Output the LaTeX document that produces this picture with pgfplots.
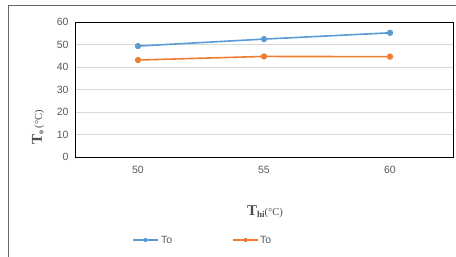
\documentclass[border=0pt]{standalone}
\usepackage{fontspec}
\setmainfont{Liberation Sans}
\newfontfamily\serifx{Liberation Serif}
\usepackage{pgfplots}
\pgfplotsset{compat=1.18}
\definecolor{blueS}{RGB}{91,155,213}
\definecolor{orangeS}{RGB}{237,125,49}
\definecolor{gridc}{RGB}{217,217,217}
\definecolor{tickc}{RGB}{89,89,89}
\begin{document}
\begin{tikzpicture}[x=1pt,y=1pt]
\useasboundingbox (0,0) rectangle (456,257);
\draw[gray!80!black, line width=1pt] (8,0) -- (8,251) -- (456,251);
\begin{axis}[
  at={(75pt,100pt)}, anchor=south west,
  scale only axis, width=378pt, height=135pt,
  xmin=-0.5, xmax=2.5, ymin=0, ymax=60,
  xtick={0,1,2}, xticklabels={50,55,60},
  ytick={0,10,...,60},
  ymajorgrids, grid style={gridc, line width=0.8pt},
  major tick length=0pt,
  axis line style={black, line width=0.8pt},
  tick label style={font=\fontsize{10.5}{12}\selectfont, text=tickc},
  xticklabel style={yshift=-6pt},
  yticklabel style={xshift=-3pt},
  /pgf/number format/assume math mode=true,
  clip=false,
]
\addplot[blueS, line width=1.6pt, mark=*, mark size=2.3pt] coordinates {(0,49.3) (1,52.4) (2,55.2)};
\addplot[orangeS, line width=1.6pt, mark=*, mark size=2.3pt] coordinates {(0,43.1) (1,44.7) (2,44.6)};
\end{axis}
\node[rotate=90, text=black!70] at (38,129.5) {\serifx\bfseries\fontsize{15}{17}\selectfont T\raisebox{-1.5pt}{\fontsize{8}{9}\selectfont o}\,\mdseries\fontsize{10.5}{12}\selectfont(°C)};
\node[text=black!70] at (265,45) {\serifx\bfseries\fontsize{15}{17}\selectfont T\raisebox{-1.5pt}{\fontsize{9}{10}\selectfont hi}\mdseries\fontsize{10.5}{12}\selectfont(°C)};
\draw[blueS, line width=1.6pt] (133,17) -- (158,17);
\fill[blueS] (145.5,17) circle (2.1pt);
\node[anchor=west, text=tickc, font=\fontsize{10.5}{12}\selectfont, inner sep=1pt] at (160,17) {To};
\draw[orangeS, line width=1.6pt] (233,17) -- (258,17);
\fill[orangeS] (245.5,17) circle (2.1pt);
\node[anchor=west, text=tickc, font=\fontsize{10.5}{12}\selectfont, inner sep=1pt] at (259,17) {To};
\end{tikzpicture}
\end{document}
